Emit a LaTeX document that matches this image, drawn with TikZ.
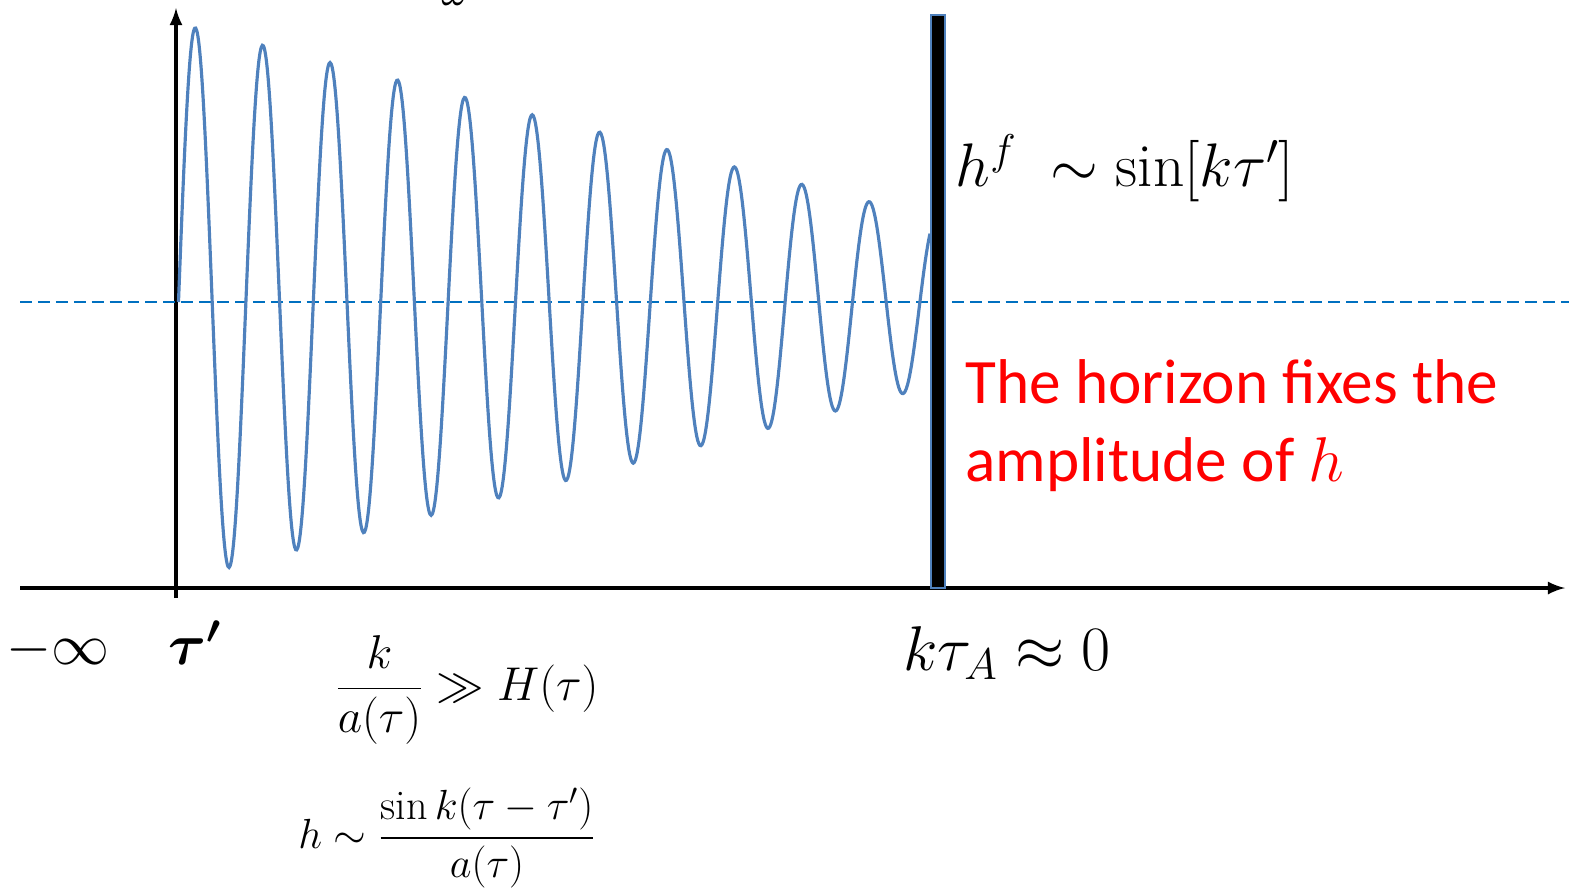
\RequirePackage{fix-cm}
\documentclass[tikz,border=0pt]{standalone}
\usepackage{amsmath,amssymb}
\usepackage{fontspec}
\newfontfamily\redfont{Carlito}
\definecolor{wavecol}{RGB}{79,129,189}
\definecolor{levelcol}{RGB}{0,112,192}
\begin{document}
\begin{tikzpicture}[x=0.02cm, y=-0.02cm, every node/.style={inner sep=0pt}]
                \useasboundingbox (0,0) rectangle (1569,887);
                \coordinate (xstart) at (20,588);
                \coordinate (xend) at (1565,588);
                \coordinate (ystart) at (176,598);
                \coordinate (yend) at (176,8);
                \draw[line width=2.3pt, -latex] (xstart) -- (xend);
                \draw[line width=2.3pt, -latex] (ystart) -- (yend);
                
                % horizon level
                \draw[levelcol, line width=1.1pt, dash pattern=on 6.8pt off 3.4pt] (20,302) -- (1569,302);
                
                \draw[wavecol, line width=1.8pt, smooth, samples=700, domain=178.5:930]
                    plot (\x, {302 - (274 - 0.258*(\x-196))*sin(5.3412*(\x-178.5))});
                
                % horizon crossing
                \fill[black, draw=wavecol, line width=1.1pt] (931,15) rectangle (945,588);
                
                \node[anchor=base] (omega) at (455,5) {\fontsize{24}{28}\selectfont $\omega$};
                \node (minf) at (58,650) {\fontsize{33}{38}\selectfont $-\infty$};
                \node (tprime) at (195,643) {\fontsize{33}{38}\selectfont $\boldsymbol{\tau'}$};
                \node (ktau) at (1007,653) {\fontsize{36}{40}\selectfont $k\tau_A\approx 0$};
                \node (hf) at (1125,168) {\fontsize{35}{40}\selectfont $h^f\;\sim\sin[k\tau']$};
                \node (cond) at (467,690) {\fontsize{27}{32}\selectfont $\displaystyle\frac{k}{a(\tau)}\gg H(\tau)$};
                \node (hsol) at (447,838) {\fontsize{24}{28}\selectfont $\displaystyle h\sim\frac{\sin k(\tau-\tau')}{a(\tau)}$};
                \node[anchor=base west, align=left, text=red, font=\redfont\fontsize{36}{44}\selectfont] (note) at (965,481)
                    {The horizon fixes the\\amplitude of $h$};
            \end{tikzpicture}
\end{document}
